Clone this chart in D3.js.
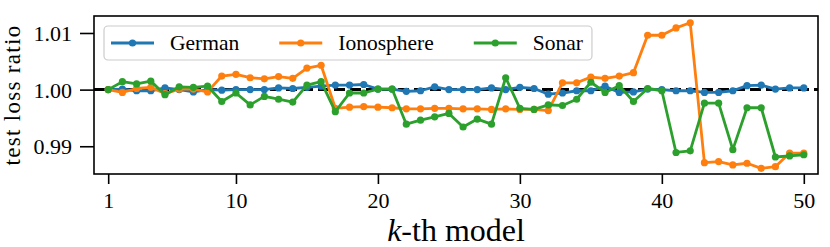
<!DOCTYPE html>
<html>
<head>
<meta charset="utf-8">
<script src="https://cdn.jsdelivr.net/npm/d3@7"></script>
<style>
  body { margin: 0; background: #fff; }
  svg { display: block; font-family: 'Liberation Serif', 'Times New Roman', serif; }
</style>
</head>
<body>
<script>
(function (d3) {
  'use strict';

  // k-th model, 1..50
  const models = d3.range(1, 51);

  const german = [
    1.0000, 1.0001, 0.9998, 0.9998, 1.0003, 1.0000, 0.9996, 1.0000, 0.9999, 1.0000,
    1.0000, 1.0000, 1.0003, 1.0002, 1.0004, 1.0006, 1.0008, 1.0008, 1.0009, 1.0001,
    1.0001, 0.9997, 0.9998, 1.0005, 1.0000, 1.0000, 1.0000, 1.0003, 1.0000, 1.0004,
    1.0002, 0.9992, 0.9994, 0.9998, 0.9998, 1.0006, 0.9995, 0.9996, 1.0001, 1.0000,
    0.9998, 0.9998, 0.9995, 0.9995, 0.9998, 1.0007, 1.0008, 1.0001, 1.0003, 1.0003
  ];

  const ionosphere = [
    1.0000, 0.9995, 1.0002, 1.0004, 0.9993, 1.0001, 1.0001, 0.9996, 1.0024, 1.0027,
    1.0021, 1.0019, 1.0023, 1.0020, 1.0038, 1.0043, 0.9967, 0.9969, 0.9970, 0.9969,
    0.9968, 0.9966, 0.9966, 0.9967, 0.9967, 0.9966, 0.9966, 0.9965, 0.9966, 0.9965,
    0.9965, 0.9963, 1.0012, 1.0012, 1.0022, 1.0020, 1.0024, 1.0030, 1.0096, 1.0096,
    1.0109, 1.0118, 0.9871, 0.9873, 0.9867, 0.9870, 0.9861, 0.9864, 0.9888, 0.9888
  ];

  const sonar = [
    1.0000, 1.0014, 1.0010, 1.0015, 0.9991, 1.0005, 1.0004, 1.0006, 0.9979, 0.9994,
    0.9973, 0.9988, 0.9983, 0.9978, 1.0008, 1.0014, 0.9961, 0.9994, 0.9994, 1.0001,
    1.0001, 0.9939, 0.9946, 0.9952, 0.9958, 0.9934, 0.9948, 0.9939, 1.0021, 0.9967,
    0.9965, 0.9973, 0.9972, 0.9983, 1.0013, 0.9995, 1.0007, 0.9979, 1.0002, 0.9998,
    0.9889, 0.9892, 0.9976, 0.9976, 0.9894, 0.9968, 0.9968, 0.9881, 0.9883, 0.9885
  ];

  const seriesNames = ['German', 'Ionosphere', 'Sonar'];
  const seriesValues = [german, ionosphere, sonar];
  const colors = ['#1f77b4', '#ff7f0e', '#2ca02c'];

  const xTicks = [1, 10, 20, 30, 40, 50];
  const yTicks = [0.99, 1.00, 1.01];

  const width = 830;
  const height = 247;
  const margin = { top: 16, right: 12, bottom: 73, left: 94 };

  const series = seriesNames.map((name, i) => ({
    name,
    color: colors[i],
    points: models.map((k, j) => ({ k, v: seriesValues[i][j] }))
  }));

  const svg = d3.select('body')
    .append('svg')
    .attr('width', width)
    .attr('height', height);

  const xScale = d3.scaleLinear()
    .domain([0, 51])
    .range([margin.left, width - margin.right]);

  const yScale = d3.scaleLinear()
    .domain([0.9851, 1.013])
    .range([height - margin.bottom, margin.top]);

  svg.append('clipPath')
    .attr('id', 'plot-clip')
    .append('rect')
    .attr('x', margin.left)
    .attr('y', margin.top)
    .attr('width', width - margin.left - margin.right)
    .attr('height', height - margin.top - margin.bottom);

  // reference line at ratio 1
  svg.append('line')
    .attr('x1', margin.left)
    .attr('x2', width - margin.right)
    .attr('y1', yScale(1))
    .attr('y2', yScale(1))
    .attr('stroke', '#000')
    .attr('stroke-width', 3)
    .attr('stroke-dasharray', '11,5');

  const line = d3.line()
    .x((d) => xScale(d.k))
    .y((d) => yScale(d.v));

  const groups = svg.append('g')
    .attr('clip-path', 'url(#plot-clip)')
    .selectAll('g')
    .data(series)
    .join('g');

  groups.append('path')
    .attr('d', (d) => line(d.points))
    .attr('fill', 'none')
    .attr('stroke', (d) => d.color)
    .attr('stroke-width', 2.8)
    .attr('stroke-linejoin', 'round');

  groups.selectAll('circle')
    .data((d) => d.points.map((p) => ({ ...p, color: d.color })))
    .join('circle')
    .attr('cx', (d) => xScale(d.k))
    .attr('cy', (d) => yScale(d.v))
    .attr('r', 3.6)
    .attr('fill', (d) => d.color);

  // axes
  const xAxis = svg.append('g')
    .attr('transform', `translate(0, ${height - margin.bottom})`)
    .call(d3.axisBottom(xScale)
      .tickValues(xTicks)
      .tickSize(10)
      .tickSizeOuter(0)
      .tickPadding(8));

  const yAxis = svg.append('g')
    .attr('transform', `translate(${margin.left}, 0)`)
    .call(d3.axisLeft(yScale)
      .tickValues(yTicks)
      .tickFormat(d3.format('.2f'))
      .tickSize(14)
      .tickSizeOuter(0)
      .tickPadding(8));

  [xAxis, yAxis].forEach((axis) => {
    axis.select('.domain').remove();
    axis.selectAll('line').attr('stroke', '#000').attr('stroke-width', 1.6);
    axis.selectAll('text')
      .attr('fill', '#000')
      .style('font-family', "'Liberation Serif', serif")
      .style('font-size', '22px');
  });
  yAxis.selectAll('text').attr('dy', '0.34em');

  // frame
  svg.append('rect')
    .attr('x', margin.left)
    .attr('y', margin.top)
    .attr('width', width - margin.left - margin.right)
    .attr('height', height - margin.top - margin.bottom)
    .attr('fill', 'none')
    .attr('stroke', '#000')
    .attr('stroke-width', 1.6);

  // axis titles
  const xLabel = svg.append('text')
    .attr('x', (margin.left + width - margin.right) / 2)
    .attr('y', 241)
    .attr('text-anchor', 'middle')
    .style('font-size', '32px');
  xLabel.append('tspan').style('font-style', 'italic').text('k');
  xLabel.append('tspan').text('-th model');

  svg.append('text')
    .attr('transform', `translate(20, ${(margin.top + height - margin.bottom) / 2}) rotate(-90)`)
    .attr('text-anchor', 'middle')
    .style('font-size', '23px')
    .style('letter-spacing', '1.3px')
    .text('test loss ratio');

  // legend, laid out like matplotlib's ncol=3 legend
  const legend = svg.append('g');
  const legendBox = legend.append('rect')
    .attr('fill', '#fff')
    .attr('fill-opacity', 0.8)
    .attr('stroke', '#ccc')
    .attr('stroke-width', 1.2)
    .attr('rx', 4);

  const legendY = 43;
  const handleLength = 43;
  const handlePad = 16;
  const columnGap = 40;
  let cursor = 111;

  series.forEach((s) => {
    const entry = legend.append('g');
    entry.append('line')
      .attr('x1', cursor)
      .attr('x2', cursor + handleLength)
      .attr('y1', legendY)
      .attr('y2', legendY)
      .attr('stroke', s.color)
      .attr('stroke-width', 2.8);
    entry.append('circle')
      .attr('cx', cursor + handleLength / 2)
      .attr('cy', legendY)
      .attr('r', 3.6)
      .attr('fill', s.color);
    const label = entry.append('text')
      .attr('x', cursor + handleLength + handlePad)
      .attr('y', legendY)
      .attr('dy', '0.34em')
      .style('font-size', '21.5px')
      .text(s.name);
    cursor += handleLength + handlePad + label.node().getComputedTextLength() + columnGap;
  });

  legendBox
    .attr('x', 104)
    .attr('y', 26)
    .attr('width', cursor - columnGap + 9 - 104)
    .attr('height', 34);

}(d3));
</script>
</body>
</html>
